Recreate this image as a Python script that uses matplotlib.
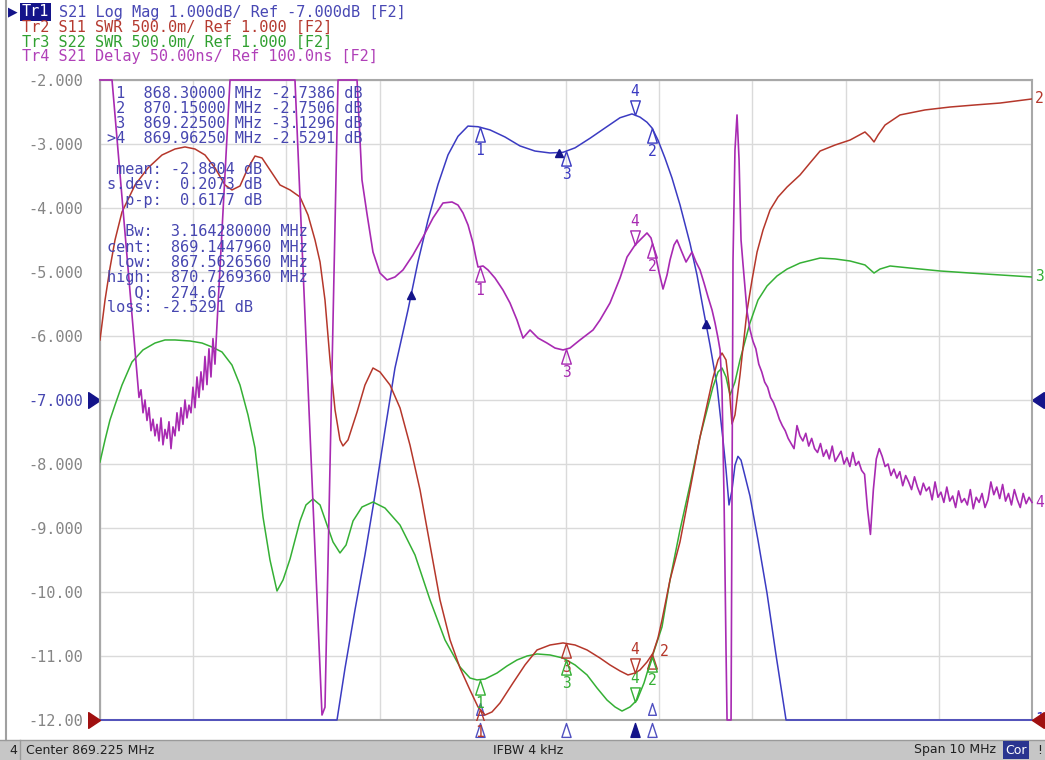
import numpy as np
import matplotlib
matplotlib.use('Agg')
import matplotlib.pyplot as plt
from matplotlib.path import Path
from matplotlib.patches import Rectangle
from matplotlib.lines import Line2D

W, H = 1045, 760
plt.rcParams['font.family'] = ['DejaVu Sans Mono']

# sweep and trace scales (as set on the analyzer)
f_center = 869.225
f_span = 10.0
f_start = f_center - f_span / 2
f_stop = f_center + f_span / 2
db_lim = (-12.0, -2.0)      # Tr1 1 dB/div, ref -7 dB at centre
swr_lim = (1.0, 6.0)        # Tr2/Tr3 0.5/div, ref 1.000 at bottom
dly_lim = (100.0, 600.0)    # Tr4 50 ns/div, ref 100 ns at bottom

# ---- Tr1  S21 log mag (dB)
s21_f = [864.225, 866.768, 866.854, 866.961, 867.068, 867.176, 867.283, 867.390, 867.530, 867.637,
         867.744, 867.852, 867.959, 868.066, 868.173, 868.281, 868.410, 868.570, 868.731, 868.892,
         869.053, 869.193, 869.322, 869.483, 869.643, 869.804, 869.933, 870.019, 870.094, 870.148,
         870.212, 870.287, 870.362, 870.448, 870.555, 870.631, 870.695, 870.770, 870.845, 870.910,
         870.942, 870.974, 871.006, 871.038, 871.070, 871.103, 871.199, 871.285, 871.382, 871.478,
         871.586, 874.225]
s21_db = [-12, -12, -11.19, -10.28, -9.42, -8.48, -7.47, -6.50, -5.59, -4.84,
          -4.19, -3.63, -3.17, -2.88, -2.72, -2.73, -2.78, -2.89, -3.03, -3.11,
          -3.14, -3.13, -3.06, -2.91, -2.75, -2.59, -2.53, -2.58, -2.66, -2.75,
          -2.94, -3.22, -3.53, -3.95, -4.55, -5.05, -5.56, -6.14, -6.77, -7.63,
          -8.09, -8.64, -8.41, -8.02, -7.88, -7.94, -8.5, -9.19, -10.02, -10.98,
          -12, -12]

# ---- Tr2  S11 SWR
s11_f = [864.225, 864.279, 864.332, 864.386, 864.461, 864.601, 864.740, 864.890, 865.030, 865.137,
         865.244, 865.352, 865.459, 865.566, 865.641, 865.727, 865.813, 865.888, 865.963, 866.049,
         866.156, 866.264, 866.371, 866.457, 866.532, 866.586, 866.639, 866.693, 866.747, 866.800,
         866.832, 866.886, 866.983, 867.068, 867.154, 867.229, 867.337, 867.444, 867.551, 867.659,
         867.766, 867.873, 867.981, 868.088, 868.195, 868.281, 868.356, 868.431, 868.517, 868.656,
         868.785, 868.914, 869.054, 869.193, 869.322, 869.451, 869.590, 869.697, 869.805, 869.890,
         869.966, 870.019, 870.094, 870.159, 870.212, 870.255, 870.341, 870.448, 870.555, 870.663,
         870.738, 870.802, 870.856, 870.899, 870.942, 870.974, 871.006, 871.038, 871.092, 871.167,
         871.221, 871.275, 871.339, 871.414, 871.500, 871.597, 871.736, 871.843, 871.951, 872.112,
         872.273, 872.433, 872.487, 872.530, 872.573, 872.648, 872.809, 873.077, 873.346, 873.614,
         873.882, 874.225]
s11_swr = [3.969, 4.281, 4.531, 4.75, 4.969, 5.180, 5.313, 5.414, 5.461, 5.477,
           5.461, 5.414, 5.313, 5.180, 5.141, 5.172, 5.313, 5.406, 5.391, 5.297,
           5.180, 5.141, 5.086, 4.945, 4.75, 4.578, 4.281, 3.813, 3.422, 3.188,
           3.141, 3.188, 3.406, 3.617, 3.75, 3.719, 3.617, 3.438, 3.148, 2.797,
           2.367, 1.938, 1.625, 1.406, 1.234, 1.102, 1.039, 1.063, 1.133, 1.289,
           1.430, 1.547, 1.586, 1.602, 1.586, 1.547, 1.484, 1.430, 1.383, 1.352,
           1.367, 1.391, 1.453, 1.523, 1.641, 1.781, 2.094, 2.391, 2.797, 3.211,
           3.461, 3.672, 3.813, 3.867, 3.813, 3.617, 3.313, 3.383, 3.695, 4.195,
           4.438, 4.656, 4.828, 4.984, 5.086, 5.164, 5.258, 5.352, 5.445, 5.492,
           5.531, 5.594, 5.555, 5.516, 5.570, 5.648, 5.727, 5.766, 5.789, 5.805,
           5.820, 5.852]

# ---- Tr3  S22 SWR
s22_f = [864.225, 864.279, 864.332, 864.386, 864.461, 864.568, 864.686, 864.815, 864.922, 865.030,
         865.191, 865.320, 865.427, 865.534, 865.641, 865.727, 865.813, 865.888, 865.974, 866.049,
         866.124, 866.189, 866.264, 866.371, 866.435, 866.510, 866.586, 866.661, 866.725, 866.800,
         866.865, 866.940, 867.036, 867.154, 867.283, 867.444, 867.605, 867.766, 867.927, 868.088,
         868.195, 868.270, 868.356, 868.485, 868.592, 868.699, 868.807, 868.914, 869.054, 869.193,
         869.322, 869.451, 869.558, 869.665, 869.751, 869.826, 869.912, 869.987, 870.062, 870.127,
         870.191, 870.255, 870.341, 870.448, 870.555, 870.663, 870.738, 870.802, 870.856, 870.899,
         870.942, 870.985, 871.038, 871.092, 871.199, 871.285, 871.382, 871.489, 871.597, 871.736,
         871.951, 872.112, 872.273, 872.433, 872.530, 872.594, 872.702, 872.916, 873.238, 873.560,
         873.882, 874.225]
s22_swr = [3.016, 3.188, 3.344, 3.461, 3.617, 3.797, 3.891, 3.945, 3.969, 3.969,
           3.961, 3.945, 3.914, 3.875, 3.773, 3.617, 3.383, 3.125, 2.586, 2.25,
           2.008, 2.094, 2.258, 2.555, 2.680, 2.727, 2.680, 2.523, 2.391, 2.305,
           2.367, 2.555, 2.664, 2.703, 2.656, 2.523, 2.289, 1.938, 1.625, 1.414,
           1.328, 1.313, 1.320, 1.367, 1.422, 1.469, 1.5, 1.516, 1.508, 1.484,
           1.430, 1.352, 1.25, 1.156, 1.102, 1.070, 1.102, 1.156, 1.289, 1.445,
           1.586, 1.727, 2.094, 2.484, 2.836, 3.211, 3.422, 3.602, 3.719, 3.750,
           3.680, 3.539, 3.641, 3.813, 4.102, 4.281, 4.391, 4.469, 4.523, 4.570,
           4.609, 4.602, 4.586, 4.555, 4.492, 4.523, 4.547, 4.531, 4.508, 4.492,
           4.477, 4.461]

# ---- Tr4  S21 group delay (ns), clamped at the screen edges like the analyzer does
dly_head_f = [864.225, 864.354]
dly_head = [600, 600]
# noisy valley, 864.622 .. 865.480 MHz
dly_valley_band = (864.622, 865.480)
dly_valley = [369.5, 352, 358, 340, 350, 334, 344, 326, 335, 322,
              331, 318, 336, 315, 327, 320, 333, 312, 329, 322,
              340, 326, 344, 331, 350, 336, 346, 340, 360, 344,
              368, 352, 372, 358, 384, 362, 390, 368, 398, 378,
              408.6]
dly_mid_f = [865.620, 866.317, 866.607, 866.639, 866.779, 866.961, 866.983, 867.036, 867.090, 867.154,
             867.229, 867.305, 867.390, 867.476, 867.583, 867.691, 867.798, 867.905, 868.002, 868.066,
             868.120, 868.174, 868.227, 868.259, 868.281, 868.335, 868.388, 868.463, 868.549, 868.624,
             868.699, 868.764, 868.839, 868.925, 869.021, 869.107, 869.193, 869.268, 869.375, 869.515,
             869.590, 869.697, 869.805, 869.880, 869.966, 870.019, 870.094, 870.137, 870.180, 870.223,
             870.266, 870.309, 870.341, 870.384, 870.416, 870.459, 870.513, 870.577, 870.620, 870.663,
             870.706, 870.749, 870.792, 870.824, 870.856, 870.878, 870.899, 870.921, 870.942, 870.953,
             870.996, 871.017, 871.038, 871.060, 871.082, 871.103, 871.124, 871.167]
dly_mid = [600, 600, 103.9, 110, 600, 600, 600, 521.9, 495.3, 465.6,
           449.2, 443.8, 446.1, 451.6, 463.3, 477.3, 492.2, 503.9, 504.7, 502.3,
           496.1, 486.7, 472.7, 461, 453.9, 454.7, 451.6, 445.3, 435.9, 425.8,
           412.5, 398.4, 404.7, 398.4, 394.5, 390.6, 389.1, 390.6, 396.9, 404.7,
           412.5, 425.8, 445.3, 461.7, 471.1, 475, 480.5, 476.6, 464.8, 450,
           436.7, 447.7, 459.4, 471.1, 475, 467.2, 457.8, 465.6, 457.8, 451.6,
           441.4, 430.5, 420.3, 410.2, 398.4, 389.1, 357.8, 271.9, 154.7, 100,
           100, 459.4, 545.3, 572.7, 537.5, 475, 456.3, 419.5]
# noisy upper stop band, 871.199 .. 874.225 MHz
dly_tail_band = (871.199, 874.225)
dly_tail = [405, 396, 390, 378, 372, 364, 360, 352, 348, 342,
            335, 330, 326, 320, 316, 312, 330, 322, 318, 324,
            314, 320, 312, 309, 316, 306, 311, 304, 314, 302,
            306, 310, 300, 305, 298, 309, 299, 302, 295, 292,
            265, 245, 280, 304, 312, 306, 298, 300, 291, 296,
            289, 294, 283, 291, 286, 280, 290, 282, 276, 285,
            279, 282, 272, 286, 274, 278, 270, 282, 271, 275,
            266, 279, 270, 273, 268, 280, 265, 274, 270, 277,
            266, 272, 286, 276, 282, 273, 284, 271, 277, 268,
            280, 272, 266, 277, 269, 274, 270]

# markers
mk_names = ['1', '2', '3', '4']
mk_freqs = [868.30, 870.15, 869.225, 869.9625]
mk_active = '4'
bw_freqs = [867.562656, 869.144796, 870.726936]

readout = [' 1  868.30000 MHz -2.7386 dB',
           ' 2  870.15000 MHz -2.7506 dB',
           ' 3  869.22500 MHz -3.1296 dB',
           '>4  869.96250 MHz -2.5291 dB']
stats = [' mean: -2.8804 dB', 's.dev:  0.2073 dB', '  p-p:  0.6177 dB']
bwinfo = ['  Bw:  3.164280000 MHz', 'cent:  869.1447960 MHz', ' low:  867.5626560 MHz',
          'high:  870.7269360 MHz', '   Q:  274.67', 'loss: -2.5291 dB']
headers = ['S21 Log Mag 1.000dB/ Ref -7.000dB [F2]',
           'Tr2 S11 SWR 500.0m/ Ref 1.000 [F2]',
           'Tr3 S22 SWR 500.0m/ Ref 1.000 [F2]',
           'Tr4 S21 Delay 50.00ns/ Ref 100.0ns [F2]']
ytick_labels = ['-12.00', '-11.00', '-10.00', '-9.000', '-8.000', '-7.000',
                '-6.000', '-5.000', '-4.000', '-3.000', '-2.000']

c1, c2, c3, c4 = '#3b3bc2', '#b5372b', '#35b035', '#a82ab2'
hdr_cols = ['#4848b4', '#b53a30', '#30a030', '#b040b8']
navy = '#14148a'
txt_blue = '#4646b0'

dly_f = np.concatenate([dly_head_f, np.linspace(*dly_valley_band, len(dly_valley)),
                        dly_mid_f, np.linspace(*dly_tail_band, len(dly_tail))])
dly_ns = np.concatenate([dly_head, dly_valley, dly_mid, dly_tail])


def fx(px):
    return px / W


def fy(py):
    return 1 - py / H


fig = plt.figure(figsize=(W / 100, H / 100), dpi=100)
ax = fig.add_axes([fx(100), 40 / H, 932 / W, 640 / H])
ax.set_xlim(f_start, f_stop)
ax.set_ylim(*db_lim)
ax.set_xticks(np.linspace(f_start, f_stop, 11))
ax.set_xticklabels([])
ax.set_yticks(np.linspace(db_lim[0], db_lim[1], 11))
ax.set_yticklabels(ytick_labels, fontsize=11, color='#858585')
ax.get_yticklabels()[5].set_color(txt_blue)
ax.tick_params(length=0, pad=12)
ax.grid(color='#dadada', lw=1)
ax.set_axisbelow(True)
for sp in ax.spines.values():
    sp.set_color('#a8a8a8')
    sp.set_linewidth(1.5)

ax_swr = ax.twinx()
ax_swr.set_ylim(*swr_lim)
ax_swr.axis('off')
ax_dly = ax.twinx()
ax_dly.set_ylim(*dly_lim)
ax_dly.axis('off')

ax.plot(s21_f, s21_db, color=c1, lw=1.1, clip_on=False, zorder=3)
ax_swr.plot(s22_f, s22_swr, color=c3, lw=1.1)
ax_swr.plot(s11_f, s11_swr, color=c2, lw=1.1)
ax_dly.plot(dly_f, dly_ns, color=c4, lw=1.2, clip_on=False)

# marker glyphs: apex sits on the trace
tri_up = Path([(0, 0), (-0.33, -1), (0.33, -1), (0, 0)],
              [Path.MOVETO, Path.LINETO, Path.LINETO, Path.CLOSEPOLY])
tri_dn = Path([(0, 0), (-0.33, 1), (0.33, 1), (0, 0)],
              [Path.MOVETO, Path.LINETO, Path.LINETO, Path.CLOSEPOLY])
ref_r = Path([(0, 0), (-0.75, 0.5), (-0.75, -0.5), (0, 0)],
             [Path.MOVETO, Path.LINETO, Path.LINETO, Path.CLOSEPOLY])
ref_l = Path([(0, 0), (0.75, 0.5), (0.75, -0.5), (0, 0)],
             [Path.MOVETO, Path.LINETO, Path.LINETO, Path.CLOSEPOLY])


def draw_markers(axis, fr, vals, color, label_off=None):
    label_off = label_off or {}
    for name, mf in zip(mk_names, mk_freqs):
        v = np.interp(mf, fr, vals)
        if name == mk_active:
            axis.plot(mf, v, ls='none', marker=tri_dn, ms=21, mfc='none', mec=color, mew=1, zorder=5)
            off = (0, 17)
        else:
            axis.plot(mf, v, ls='none', marker=tri_up, ms=21, mfc='none', mec=color, mew=1, zorder=5)
            off = (0, -17)
        off = label_off.get(name, off)
        axis.annotate(name, (mf, v), xytext=off, textcoords='offset points',
                      ha='center', va='center', color=color, fontsize=10.5)


draw_markers(ax, s21_f, s21_db, c1)
draw_markers(ax_swr, s11_f, s11_swr, c2, label_off={'2': (9, 2)})
draw_markers(ax_swr, s22_f, s22_swr, c3)
draw_markers(ax_dly, dly_f, dly_ns, c4)

ax.plot(bw_freqs, np.interp(bw_freqs, s21_f, s21_db), ls='none', marker='^', ms=6,
        color=navy, zorder=6)

# stimulus marker flags under the grid
xt = ax.get_xaxis_transform()
for name, mf in zip(mk_names, mk_freqs):
    if name == mk_active:
        ax.plot(mf, -0.004, marker=tri_up, ms=20, mfc=navy, mec=navy, transform=xt, clip_on=False)
    else:
        ax.plot(mf, -0.004, marker=tri_up, ms=20, mfc='white', mec='#5050c0', mew=1,
                transform=xt, clip_on=False)
for mf in mk_freqs[:2]:
    ax.plot(mf, 0.026, marker=tri_up, ms=17, mfc='none', mec='#5050c0', mew=1,
            transform=xt, clip_on=False, zorder=6)

# reference position arrows
yt = ax.get_yaxis_transform()
ax.plot(0, -7, marker=ref_r, ms=17, color=navy, transform=yt, clip_on=False)
ax.plot(1, -7, marker=ref_l, ms=17, color=navy, transform=yt, clip_on=False)
yt2 = ax_swr.get_yaxis_transform()
ax_swr.plot(0, 1.0, marker=ref_r, ms=17, color='#a01010', transform=yt2, clip_on=False, zorder=8)
ax_swr.plot(1, 1.0, marker=ref_l, ms=17, color='#a01010', transform=yt2, clip_on=False, zorder=8)

# trace numbers at the right edge
for axis, vals, lab, col in [(ax, s21_db, '1', c1), (ax_swr, s11_swr, '2', c2),
                             (ax_swr, s22_swr, '3', c3), (ax_dly, dly_ns, '4', c4)]:
    axis.annotate(lab, (f_stop, vals[-1]), xytext=(2, 0), textcoords='offset points',
                  ha='left', va='center', color=col, fontsize=10.5, annotation_clip=False)

# marker readout block
for i, s in enumerate(readout):
    fig.text(fx(107), fy(93 + 15.3 * i), s, color=txt_blue, fontsize=11, va='center')
for i, s in enumerate(stats):
    fig.text(fx(107), fy(169 + 15.5 * i), s, color=txt_blue, fontsize=11, va='center')
for i, s in enumerate(bwinfo):
    fig.text(fx(107), fy(232 + 15.2 * i), s, color=txt_blue, fontsize=11, va='center')

# channel header (Tr1 is the active trace, shown inverted)
char_w = 0.602 * 11 * 100 / 72
fig.text(fx(22), fy(12), 'Tr1', color='white', fontsize=11, va='center',
         bbox=dict(facecolor=navy, edgecolor='none', pad=1.2))
fig.text(fx(22 + 4 * char_w), fy(12), headers[0], color=hdr_cols[0], fontsize=11, va='center')
for i in range(1, 4):
    fig.text(fx(22), fy(12 + 15 * i), headers[i], color=hdr_cols[i], fontsize=11, va='center')
fig.text(fx(8), fy(12), '\u25b6', color=navy, fontsize=9, va='center',
         family='DejaVu Sans')

# window border and status bar
fig.add_artist(Line2D([fx(6), fx(6)], [fy(0), fy(740)], color='#a0a0a0', lw=1.5))
fig.add_artist(Rectangle((0, 0), 1, 20 / H, transform=fig.transFigure,
                         facecolor='#c6c6c6', edgecolor='none'))
fig.add_artist(Line2D([0, 1], [20 / H, 20 / H], color='#9a9a9a', lw=1))
fig.add_artist(Line2D([fx(20), fx(20)], [0, 20 / H], color='#9a9a9a', lw=1))
sb = dict(fontsize=9, va='center', family='DejaVu Sans', color='#202020')
fig.text(fx(9), fy(750), '4', **sb)
fig.text(fx(26), fy(750), 'Center %.3f MHz' % f_center, **sb)
fig.text(fx(528), fy(750), 'IFBW 4 kHz', ha='center', **sb)
fig.text(fx(996), fy(750), 'Span %g MHz' % f_span, ha='right', **sb)
fig.text(fx(1005), fy(750), 'Cor', fontsize=9, va='center', family='DejaVu Sans',
         color='white', bbox=dict(facecolor='#2a3590', edgecolor='none', pad=1.5))
fig.text(fx(1037), fy(750), '!', **sb)

fig.savefig('out.png', dpi=100)
